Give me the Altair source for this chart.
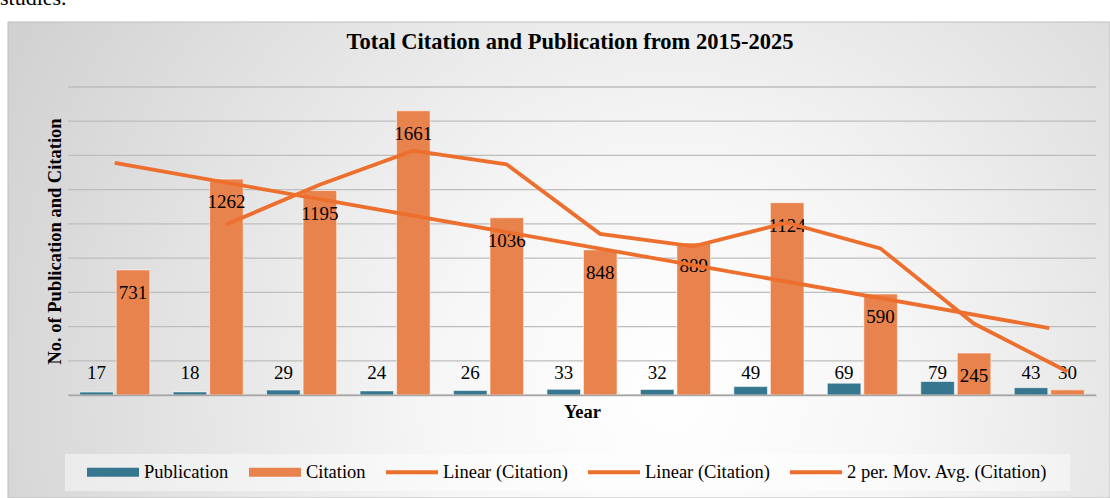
import altair as alt
import pandas as pd

# ---------------- data ----------------
years = ["2015", "2016", "2017", "2018", "2019", "2020", "2021", "2022", "2023", "2024", "2025"]
publications = [17, 18, 29, 24, 26, 33, 32, 49, 69, 79, 43]
citations = [731, 1262, 1195, 1661, 1036, 848, 889, 1124, 590, 245, 30]
year_index = [1, 2, 3, 4, 5, 6, 7, 8, 9, 10, 11]
grid_values = [0, 200, 400, 600, 800, 1000, 1200, 1400, 1600, 1800]
legend_keys = ["Publication", "Citation", "Linear (Citation)", "Linear (Citation) ",
               "2 per. Mov. Avg. (Citation)"]
legend_colors = ["#36768F", "#E9834E", "#EC6F2D", "#EC6F2D", "#EC6F2D"]
legend_shapes = ["M-1,-0.17H1V0.17H-1Z", "M-1,-0.17H1V0.17H-1Z",
                 "M-1,-0.075H1V0.075H-1Z", "M-1,-0.075H1V0.075H-1Z", "M-1,-0.075H1V0.075H-1Z"]
title_text = "Total Citation and Publication from 2015-2025"

FONT = "Liberation Serif"
W, H = 1028, 308

long_df = pd.DataFrame({
    "year": years * 2,
    "series": ["Publication"] * len(years) + ["Citation"] * len(years),
    "value": publications + citations,
})
cit_df = pd.DataFrame({"idx": year_index, "year": years, "citation": citations})
grid_df = pd.DataFrame({"v": grid_values})
legend_df = pd.DataFrame({"series": legend_keys})
one = pd.DataFrame({"a": [0]})

yscale = alt.Scale(domain=[0, 1800], nice=False, zero=True)
yaxis = alt.Axis(labels=False, ticks=False, domain=False, grid=False,
                 title="No. of Publication and Citation", titleFont=FONT,
                 titleFontSize=18.5, titleFontWeight="bold", titleColor="black",
                 titleX=-14, titleY=H / 2, titleBaseline="middle", titleAngle=270,
                 zindex=1)
xscale = alt.Scale(paddingInner=0.25, paddingOuter=0.125)
xaxis = alt.Axis(labels=False, ticks=False, domain=True, domainColor="#a6a6a6",
                 domainWidth=1.5, grid=False, title="Year", titleFont=FONT,
                 titleFontSize=18.5, titleFontWeight="bold", titleColor="black",
                 titleY=16, titleBaseline="middle", zindex=1)
xoff_scale = alt.Scale(domain=["Publication", "Citation"], paddingInner=0.08, paddingOuter=0)
color_scale = alt.Scale(domain=legend_keys, range=legend_colors)
shape_scale = alt.Scale(domain=legend_keys, range=legend_shapes)

legend_spec = alt.Legend(
    title=None, orient="none", legendX=19, legendY=359, direction="horizontal",
    columns=5, symbolSize=2704, symbolStrokeWidth=0, symbolOpacity=1,
    labelFont=FONT, labelFontSize=18.5, labelColor="black", labelOffset=5,
    columnPadding=20, labelLimit=400, labelExpr="trim(datum.label)", zindex=1)

# ---------------- background decoration ----------------
bg = alt.Chart(one).mark_rect(
    fill=alt.RadialGradient(
        gradient="radial",
        stops=[alt.GradientStop(offset=0, color="#ffffff"),
               alt.GradientStop(offset=0.25, color="#f6f6f6"),
               alt.GradientStop(offset=1, color="#c3c3c3")],
        x1=0.6, y1=0.62, r1=0, x2=0.6, y2=0.62, r2=0.85),
    stroke="#bdbdbd", strokeWidth=1,
).encode(x=alt.value(-60), x2=alt.value(1042), y=alt.value(-65), y2=alt.value(411))

legend_box = alt.Chart(one).mark_rect(fill="white", opacity=0.45).encode(
    x=alt.value(-3), x2=alt.value(1002), y=alt.value(367), y2=alt.value(404))

studies = alt.Chart(one).mark_text(
    text="studies.", font=FONT, fontSize=22, align="left", baseline="alphabetic",
    color="black").encode(x=alt.value(-68), y=alt.value(-82))

title = alt.Chart(one).mark_text(
    text=title_text, font=FONT, fontSize=22.5, fontWeight="bold", align="center",
    baseline="alphabetic", color="black").encode(x=alt.value(502), y=alt.value(-38))

grid = alt.Chart(grid_df).mark_rule(color="#bdbdbd", strokeWidth=1.3).encode(
    y=alt.Y("v:Q", scale=yscale, axis=yaxis))

# ---------------- bars and labels ----------------
bars = alt.Chart(long_df).mark_bar(stroke="white", strokeWidth=1, strokeOpacity=0.55).encode(
    x=alt.X("year:N", scale=xscale, axis=xaxis),
    xOffset=alt.XOffset("series:N", scale=xoff_scale),
    y=alt.Y("value:Q", scale=yscale, axis=yaxis),
    color=alt.Color("series:N", scale=color_scale, legend=legend_spec),
)

text_common = dict(font=FONT, fontSize=19, color="black", baseline="middle", align="center")

pub_labels = alt.Chart(long_df).transform_filter(
    alt.datum.series == "Publication"
).mark_text(dy=-22, **text_common).encode(
    x=alt.X("year:N", scale=xscale, axis=xaxis),
    xOffset=alt.XOffset("series:N", scale=xoff_scale),
    y=alt.Y(datum=0, scale=yscale, axis=yaxis),
    text=alt.Text("value:Q"),
)

cit_labels = alt.Chart(long_df).transform_filter(
    (alt.datum.series == "Citation") & (alt.datum.value >= 100)
).mark_text(dy=23, **text_common).encode(
    x=alt.X("year:N", scale=xscale, axis=xaxis),
    xOffset=alt.XOffset("series:N", scale=xoff_scale),
    y=alt.Y("value:Q", scale=yscale, axis=yaxis),
    text=alt.Text("value:Q"),
)

cit_small = alt.Chart(long_df).transform_filter(
    (alt.datum.series == "Citation") & (alt.datum.value < 100)
).mark_text(dy=-22, **text_common).encode(
    x=alt.X("year:N", scale=xscale, axis=xaxis),
    xOffset=alt.XOffset("series:N", scale=xoff_scale),
    y=alt.Y(datum=0, scale=yscale, axis=yaxis),
    text=alt.Text("value:Q"),
)

bar_group = alt.layer(bars, pub_labels, cit_labels, cit_small)

# ---------------- trend lines ----------------
lxscale = alt.Scale(domain=[0.5, 11.5], nice=False, zero=False)
trend = alt.Chart(cit_df).transform_regression("idx", "citation").mark_line(
    color="#EC6F2D", strokeWidth=3.8).encode(
    x=alt.X("idx:Q", scale=lxscale, axis=None),
    y=alt.Y("citation:Q", scale=yscale, axis=yaxis),
)
movavg = alt.Chart(cit_df).transform_window(
    ma="mean(citation)", frame=[-1, 0], sort=[alt.SortField("idx")]
).transform_filter(alt.datum.idx > 1).mark_line(
    color="#EC6F2D", strokeWidth=3.8, xOffset=18).encode(
    x=alt.X("idx:Q", scale=lxscale, axis=None),
    y=alt.Y("ma:Q", scale=yscale, axis=yaxis),
)
line_group = alt.layer(trend, movavg)

# ---------------- legend carrier ----------------
legend_layer = alt.Chart(legend_df).mark_point(filled=True, opacity=1).encode(
    x=alt.value(-5000), y=alt.value(-5000),
    color=alt.Color("series:N", scale=color_scale, legend=legend_spec),
    shape=alt.Shape("series:N", scale=shape_scale, legend=legend_spec),
)

chart = alt.layer(
    bg, legend_box, studies, title, grid, bar_group, line_group, legend_layer
).resolve_scale(x="independent").properties(
    width=W, height=H,
    autosize="none",
    padding={"left": 68, "top": 87, "right": 14, "bottom": 103},
    background="white",
).configure_view(stroke=None)

chart.save("out.html", embed_options={"renderer": "svg", "actions": False})
